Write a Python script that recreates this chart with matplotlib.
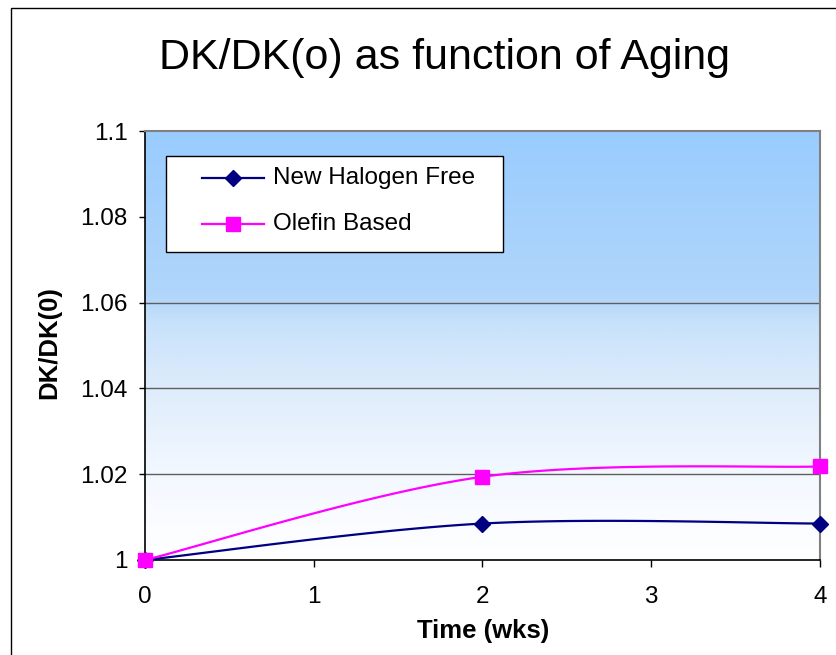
import numpy as np
import matplotlib
matplotlib.use('Agg')
import matplotlib.pyplot as plt
from matplotlib.patches import Rectangle
from matplotlib.lines import Line2D
from matplotlib.colors import LinearSegmentedColormap

plt.rcParams['font.family'] = ['Liberation Sans', 'DejaVu Sans']

# data
weeks = [0, 2, 4]
halogen_free = [1.0, 1.0085, 1.0085]
olefin_based = [1.0, 1.0194, 1.0218]
series_names = ['New Halogen Free', 'Olefin Based']
y_ticks = [1.0, 1.02, 1.04, 1.06, 1.08, 1.1]
y_tick_labels = ['1', '1.02', '1.04', '1.06', '1.08', '1.1']
grid_levels = [1.02, 1.04, 1.06]
x_ticks = [0, 1, 2, 3, 4]

W, H = 837, 655
NAVY = '#000080'
PINK = '#FF00FF'


def px(x, y):
    # pixel position (from top-left) to figure fraction
    return x / W, 1 - y / H


def smooth_line(xs, ys, n=30):
    # bezier smoothing like the spreadsheet "smoothed line" option
    p = np.column_stack([xs, ys]).astype(float)
    p_ext = np.vstack([p[0], p, p[-1]])
    out = []
    for i in range(len(p) - 1):
        p0, p1, p2, p3 = p_ext[i], p_ext[i + 1], p_ext[i + 2], p_ext[i + 3]
        c1 = p1 + (p2 - p0) / 6
        c2 = p2 - (p3 - p1) / 6
        t = np.linspace(0, 1, n)[:, None]
        seg = ((1 - t) ** 3) * p1 + 3 * ((1 - t) ** 2) * t * c1 + 3 * (1 - t) * t ** 2 * c2 + t ** 3 * p2
        out.append(seg if i == 0 else seg[1:])
    out = np.vstack(out)
    return out[:, 0], out[:, 1]


fig = plt.figure(figsize=(W / 100, H / 100), dpi=100)
x0, y0 = px(145, 560)
x1, y1 = px(820, 131)
ax = fig.add_axes([x0, y0, x1 - x0, y1 - y0])

# chart area border (runs off the right and bottom edge)
bx, by = px(11, 8)
fig.patches.append(Rectangle((bx, -0.1), 1.2, by + 0.1, transform=fig.transFigure,
                             fill=False, edgecolor='black', linewidth=1.0, zorder=0.5))

ax.set_xlim(0, 4)
ax.set_ylim(1.0, 1.1)

# plot area fill: light blue on top fading to white
bg = LinearSegmentedColormap.from_list('bg', [
    (0.0, (153 / 255, 204 / 255, 1.0)),
    (0.38, (176 / 255, 214 / 255, 250 / 255)),
    (0.45, (200 / 255, 226 / 255, 251 / 255)),
    (0.6, (222 / 255, 236 / 255, 251 / 255)),
    (0.8, (243 / 255, 248 / 255, 1.0)),
    (1.0, (1.0, 1.0, 1.0)),
])
grad = np.linspace(0, 1, 512)[:, None]
ax.imshow(grad, cmap=bg, extent=[0, 4, 1.0, 1.1], aspect='auto', origin='upper', zorder=0)

for yv in grid_levels:
    ax.axhline(yv, color='#5f5f5f', linewidth=1.0, zorder=1)

hx, hy = smooth_line(weeks, halogen_free)
ox, oy = smooth_line(weeks, olefin_based)
ax.plot(hx, hy, color=NAVY, linewidth=1.6, zorder=3)
ax.plot(ox, oy, color=PINK, linewidth=1.6, zorder=3)
ax.plot(weeks, halogen_free, linestyle='none', marker='D', markersize=8,
        color=NAVY, clip_on=False, zorder=4)
ax.plot(weeks, olefin_based, linestyle='none', marker='s', markersize=9.4,
        color=PINK, clip_on=False, zorder=5)

ax.set_yticks(y_ticks)
ax.set_yticklabels(y_tick_labels)
ax.set_xticks(x_ticks)
ax.tick_params(axis='both', direction='out', width=1, labelsize=17.5, color='black')
ax.tick_params(axis='y', length=4.5, pad=8)
ax.tick_params(axis='x', length=5, pad=14)

for side in ['top', 'right']:
    ax.spines[side].set_color('#808080')
    ax.spines[side].set_linewidth(1.5)
for side in ['left', 'bottom']:
    ax.spines[side].set_color('black')
    ax.spines[side].set_linewidth(1.2)

# legend box
lx0, ly1 = px(166, 156)
lx1, ly0 = px(503, 252)
fig.patches.append(Rectangle((lx0, ly0), lx1 - lx0, ly1 - ly0, transform=fig.transFigure,
                             facecolor='white', edgecolor='black', linewidth=1.0, zorder=2))
for name, color, marker, ms, row_y in [(series_names[0], NAVY, 'D', 8, 178),
                                       (series_names[1], PINK, 's', 9.4, 224)]:
    a, yy = px(202, row_y)
    b, _ = px(264, row_y)
    fig.add_artist(Line2D([a, b], [yy, yy], transform=fig.transFigure, color=color,
                          linewidth=1.6, zorder=3))
    fig.add_artist(Line2D([(a + b) / 2], [yy], transform=fig.transFigure, color=color,
                          marker=marker, markersize=ms, linestyle='none', zorder=3))
    tx, _ = px(273, row_y)
    fig.text(tx, yy, name, ha='left', va='center', fontsize=17.5, zorder=3)

tx, ty = px(445, 58)
fig.text(tx, ty, 'DK/DK(o) as function of Aging', ha='center', va='center', fontsize=31)
tx, ty = px(483, 631)
fig.text(tx, ty, 'Time (wks)', ha='center', va='center', fontsize=18.5, fontweight='bold')
tx, ty = px(49, 343)
fig.text(tx, ty, 'DK/DK(0)', ha='center', va='center', fontsize=18.5,
         fontweight='bold', rotation=90)

fig.savefig('out.png', dpi=100)
